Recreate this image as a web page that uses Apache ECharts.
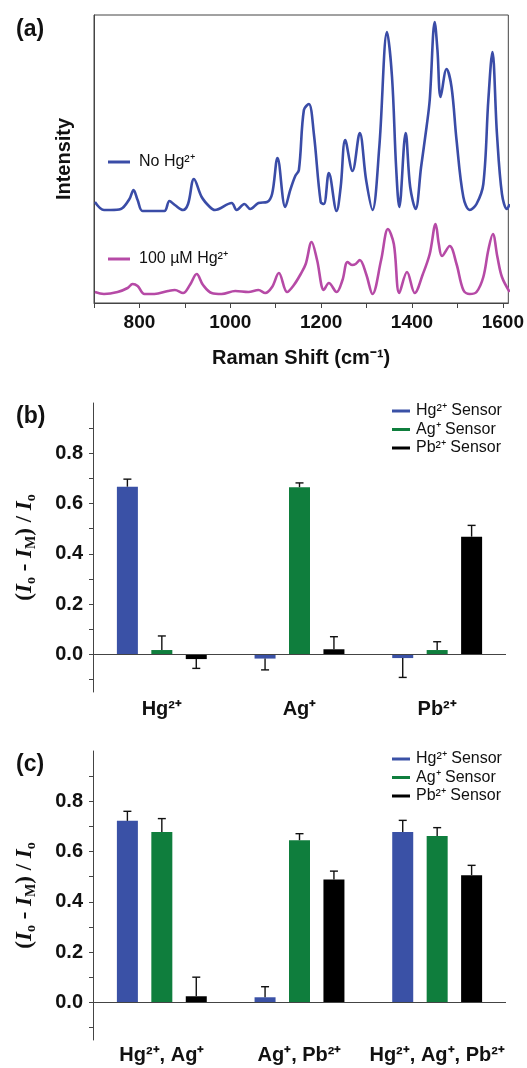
<!DOCTYPE html>
<html>
<head>
<meta charset="utf-8">
<script src="https://cdn.jsdelivr.net/npm/echarts@6.0.0/dist/echarts.min.js"></script>
<style>
  html, body { margin: 0; padding: 0; background: #fff; }
  #chart { width: 527px; height: 1068px; }
</style>
</head>
<body>
<div id="chart"></div>
<script>
// (a) Raman spectra
const noHgShift = [702, 722, 737, 759, 778, 787, 796, 807, 833, 855, 866, 878, 896, 907, 920, 937, 955, 966, 1003, 1014, 1031, 1044, 1062, 1081, 1092, 1104, 1121, 1132, 1143, 1151, 1162, 1173, 1184, 1199, 1206, 1217, 1234, 1243, 1253, 1269, 1285, 1299, 1313, 1328, 1345, 1356, 1365, 1372, 1386, 1396, 1408, 1420, 1432, 1439, 1450, 1456, 1463, 1476, 1487, 1498, 1513, 1527, 1542, 1557, 1568, 1577, 1587, 1598, 1609, 1615];
const noHgIntensity = [101, 93, 93, 94, 104, 113, 103, 92, 92, 92, 102, 98, 93, 99, 124, 106, 96, 93, 100, 93, 99, 94, 100, 101, 109, 145, 96, 113, 127, 133, 193, 199, 169, 101, 99, 130, 92, 116, 163, 132, 170, 123, 93, 156, 271, 226, 136, 96, 170, 116, 94, 136, 176, 203, 281, 253, 206, 234, 216, 163, 106, 93, 99, 119, 203, 251, 169, 109, 94, 99];
const hgShift = [702, 722, 752, 774, 785, 796, 811, 833, 863, 878, 896, 911, 926, 940, 959, 981, 1011, 1040, 1062, 1077, 1092, 1107, 1125, 1140, 1155, 1166, 1179, 1191, 1206, 1217, 1234, 1247, 1258, 1268, 1276, 1285, 1299, 1313, 1332, 1347, 1360, 1372, 1389, 1406, 1424, 1439, 1452, 1459, 1466, 1483, 1498, 1513, 1527, 1542, 1557, 1568, 1578, 1588, 1598, 1615];
const hgIntensity = [11, 9, 11, 15, 19, 17, 9, 9, 12, 13, 10, 18, 29, 18, 10, 9, 12, 11, 13, 10, 16, 30, 11, 18, 29, 39, 61, 43, 13, 20, 11, 23, 41, 38, 39, 43, 29, 9, 43, 74, 59, 10, 31, 10, 29, 49, 79, 59, 47, 57, 39, 13, 9, 11, 26, 53, 69, 46, 26, 11];
const shiftTicks = [700, 800, 900, 1000, 1100, 1200, 1300, 1400, 1500, 1600];
const shiftLabels = [800, 1000, 1200, 1400, 1600];

// (b) single ions, (c) mixtures
const sensorNames = ['Hg²⁺ Sensor', 'Ag⁺ Sensor', 'Pb²⁺ Sensor'];
const sensorColors = ['#3a51a6', '#0f7e3d', '#000000'];
const singleIons = ['Hg²⁺', 'Ag⁺', 'Pb²⁺'];
const singleHg = [0.667, -0.017, -0.015];
const singleAg = [0.017, 0.665, 0.017];
const singlePb = [-0.019, 0.020, 0.468];
const singleHgErr = [0.030, 0.045, 0.077];
const singleAgErr = [0.056, 0.017, 0.033];
const singlePbErr = [0.037, 0.050, 0.045];
const mixIons = ['Hg²⁺, Ag⁺', 'Ag⁺, Pb²⁺', 'Hg²⁺, Ag⁺, Pb²⁺'];
const mixHg = [0.722, 0.020, 0.678];
const mixAg = [0.678, 0.645, 0.662];
const mixPb = [0.024, 0.489, 0.506];
const mixHgErr = [0.038, 0.042, 0.046];
const mixAgErr = [0.053, 0.026, 0.033];
const mixPbErr = [0.076, 0.033, 0.039];
const ratioTicks = [-0.1, 0, 0.1, 0.2, 0.3, 0.4, 0.5, 0.6, 0.7, 0.8, 0.9];
const ratioLabels = [0, 0.2, 0.4, 0.6, 0.8];

const sans = 'Liberation Sans, Arial, sans-serif';
const serif = 'Liberation Serif, Times New Roman, serif';
const axisColor = '#444';
const barW = 21;
const barGapRatio = 0.64;

const chart = echarts.init(document.getElementById('chart'));

function zip(xs, ys) {
  return xs.map((x, i) => [x, ys[i]]);
}

// error bar drawn on top of bar k of each group, pointing away from zero
function errorBar(k) {
  return function (params, api) {
    const cat = api.value(0);
    const val = api.value(1);
    const err = api.value(2);
    const end = val >= 0 ? val + err : val - err;
    const p0 = api.coord([cat, val]);
    const p1 = api.coord([cat, end]);
    const x = p0[0] + (k - 1) * barW * (1 + barGapRatio);
    const style = { stroke: '#111', lineWidth: 1.4 };
    return {
      type: 'group',
      children: [
        { type: 'line', shape: { x1: x, y1: p0[1], x2: x, y2: p1[1] }, style: style },
        { type: 'line', shape: { x1: x - 4, y1: p1[1], x2: x + 4, y2: p1[1] }, style: style }
      ]
    };
  };
}

function barPanel(idx, vals, errs) {
  const out = [];
  vals.forEach((v, k) => {
    const s = {
      type: 'bar',
      name: sensorNames[k],
      xAxisIndex: idx,
      yAxisIndex: idx,
      data: v,
      barWidth: barW,
      barGap: (barGapRatio * 100) + '%',
      itemStyle: { color: sensorColors[k] }
    };
    if (k === 0) {
      s.markLine = {
        silent: true,
        symbol: 'none',
        label: { show: false },
        lineStyle: { color: axisColor, type: 'solid', width: 1 },
        data: [{ yAxis: 0 }]
      };
    }
    out.push(s);
  });
  errs.forEach((e, k) => {
    out.push({
      type: 'custom',
      xAxisIndex: idx,
      yAxisIndex: idx,
      z: 10,
      data: vals[k].map((v, i) => [i, v, e[i]]),
      renderItem: errorBar(k)
    });
  });
  return out;
}

const ratioName = '{p|(}{i|I}{s|o}{p| - }{i|I}{s|M}{p|) / }{i|I}{s|o}';
const ratioRich = {
  p: { fontFamily: serif, fontWeight: 'bold', fontSize: 23, lineHeight: 26, color: '#111' },
  i: { fontFamily: serif, fontWeight: 'bold', fontStyle: 'italic', fontSize: 23, lineHeight: 26, color: '#111' },
  s: { fontFamily: serif, fontWeight: 'bold', fontSize: 14, lineHeight: 13, verticalAlign: 'bottom', color: '#111' }
};

function ratioAxis(idx) {
  return {
    type: 'value',
    gridIndex: idx,
    min: -0.15,
    max: 1.0,
    name: ratioName,
    nameLocation: 'middle',
    nameGap: 55,
    nameTextStyle: { rich: ratioRich },
    axisLine: { show: true, lineStyle: { color: axisColor, width: 1 } },
    axisTick: { show: true, inside: false, length: 4, customValues: ratioTicks, lineStyle: { color: axisColor } },
    axisLabel: {
      customValues: ratioLabels,
      margin: 10,
      color: '#111',
      fontFamily: sans,
      fontWeight: 'bold',
      fontSize: 20,
      formatter: v => v.toFixed(1)
    },
    splitLine: { show: false }
  };
}

function ionAxis(idx, cats, margin) {
  return {
    type: 'category',
    gridIndex: idx,
    data: cats,
    axisLine: { show: false, onZero: false },
    axisTick: { show: false },
    axisLabel: { color: '#111', fontFamily: sans, fontWeight: 'bold', fontSize: 20, margin: margin, interval: 0 },
    splitLine: { show: false }
  };
}

function sensorLegend(top) {
  return {
    data: sensorNames,
    orient: 'vertical',
    left: 392,
    top: top,
    padding: 0,
    icon: 'rect',
    itemWidth: 18,
    itemHeight: 3,
    itemGap: 0.5,
    textStyle: { fontFamily: sans, fontSize: 16, lineHeight: 18, color: '#111', padding: [0, 0, 0, 1] }
  };
}

function spectrumLegend(name, top) {
  return {
    data: [name],
    left: 108,
    top: top,
    padding: 0,
    icon: 'rect',
    itemWidth: 22,
    itemHeight: 3,
    textStyle: { fontFamily: sans, fontSize: 16, color: '#111', padding: [0, 0, 0, 4] }
  };
}

const panelTitle = t => ({
  text: t.text,
  left: 11,
  top: t.top,
  textStyle: { fontFamily: sans, fontWeight: 'bold', fontSize: 23, color: '#111' }
});

const option = {
  animation: false,
  backgroundColor: '#fff',
  textStyle: { fontFamily: sans },
  title: [
    panelTitle({ text: '(a)', top: 13 }),
    panelTitle({ text: '(b)', top: 400 }),
    panelTitle({ text: '(c)', top: 748 })
  ],
  legend: [
    spectrumLegend('No Hg²⁺', 154),
    spectrumLegend('100 µM Hg²⁺', 251),
    sensorLegend(402),
    sensorLegend(750)
  ],
  grid: [
    { left: 94, top: 15, width: 415, height: 288, show: true, borderColor: axisColor, borderWidth: 1, backgroundColor: 'transparent' },
    { left: 93, top: 403, width: 413, height: 289 },
    { left: 93, top: 751, width: 413, height: 289 }
  ],
  xAxis: [
    {
      type: 'value',
      gridIndex: 0,
      min: 700,
      max: 1612,
      name: 'Raman Shift (cm⁻¹)',
      nameLocation: 'middle',
      nameGap: 45,
      nameTextStyle: { fontFamily: sans, fontWeight: 'bold', fontSize: 20, color: '#111' },
      axisLine: { show: true, lineStyle: { color: axisColor } },
      axisTick: { show: true, inside: false, length: 5, customValues: shiftTicks, lineStyle: { color: axisColor } },
      axisLabel: { customValues: shiftLabels, margin: 10, color: '#111', fontWeight: 'bold', fontSize: 19, formatter: v => String(v) },
      splitLine: { show: false }
    },
    ionAxis(1, singleIons, 7),
    ionAxis(2, mixIons, 5)
  ],
  yAxis: [
    {
      type: 'value',
      gridIndex: 0,
      min: 0,
      max: 288,
      name: 'Intensity',
      nameLocation: 'middle',
      nameGap: 20,
      nameTextStyle: { fontFamily: sans, fontWeight: 'bold', fontSize: 20, color: '#111' },
      axisLine: { show: true, lineStyle: { color: axisColor } },
      axisTick: { show: false },
      axisLabel: { show: false },
      splitLine: { show: false }
    },
    ratioAxis(1),
    ratioAxis(2)
  ],
  series: [
    {
      type: 'line',
      name: 'No Hg²⁺',
      xAxisIndex: 0, yAxisIndex: 0,
      data: zip(noHgShift, noHgIntensity),
      showSymbol: false,
      smooth: 0.35,
      lineStyle: { color: '#3a4ca7', width: 2.6 },
      itemStyle: { color: '#3a4ca7' }
    },
    {
      type: 'line',
      name: '100 µM Hg²⁺',
      xAxisIndex: 0, yAxisIndex: 0,
      data: zip(hgShift, hgIntensity),
      showSymbol: false,
      smooth: 0.35,
      lineStyle: { color: '#b64aa6', width: 2.6 },
      itemStyle: { color: '#b64aa6' }
    },
    ...barPanel(1, [singleHg, singleAg, singlePb], [singleHgErr, singleAgErr, singlePbErr]),
    ...barPanel(2, [mixHg, mixAg, mixPb], [mixHgErr, mixAgErr, mixPbErr])
  ]
};

chart.setOption(option);
</script>
</body>
</html>
